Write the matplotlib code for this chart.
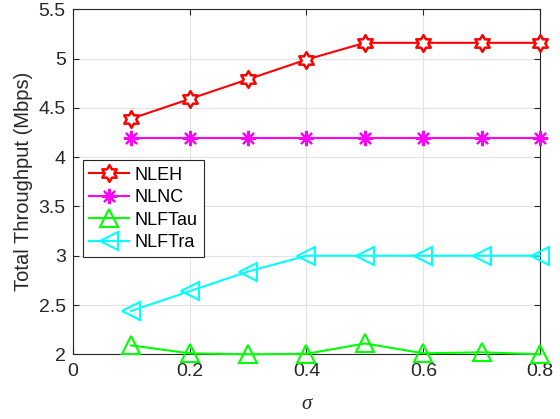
import numpy as np
import matplotlib
matplotlib.use("Agg")
import matplotlib.pyplot as plt
from matplotlib.path import Path

sigma = [0.1, 0.2, 0.3, 0.4, 0.5, 0.6, 0.7, 0.8]
nleh = [4.39, 4.59, 4.79, 4.99, 5.16, 5.16, 5.16, 5.16]
nlnc = [4.19, 4.19, 4.19, 4.19, 4.19, 4.19, 4.19, 4.19]
nlftau = [2.09, 2.01, 2.00, 2.005, 2.11, 2.01, 2.02, 2.00]
nlftra = [2.44, 2.64, 2.84, 3.00, 3.00, 3.00, 3.00, 3.00]
labels = ["NLEH", "NLNC", "NLFTau", "NLFTra"]
xticks = [0, 0.2, 0.4, 0.6, 0.8]
xticklabels = ['0', '0.2', '0.4', '0.6', '0.8']
yticks = [2, 2.5, 3, 3.5, 4, 4.5, 5, 5.5]
yticklabels = ['2', '2.5', '3', '3.5', '4', '4.5', '5', '5.5']

plt.rcParams['font.family'] = ['Liberation Sans', 'DejaVu Sans']

# hexagram marker path
ang_out = np.deg2rad(90 + np.arange(6) * 60)
ang_in = np.deg2rad(120 + np.arange(6) * 60)
r_in = 1 / np.sqrt(3)
verts = []
for ao, ai in zip(ang_out, ang_in):
    verts.append((np.cos(ao), np.sin(ao)))
    verts.append((r_in * np.cos(ai), r_in * np.sin(ai)))
verts.append(verts[0])
codes = [Path.MOVETO] + [Path.LINETO] * (len(verts) - 2) + [Path.CLOSEPOLY]
hexagram = Path(verts, codes)

fig = plt.figure(figsize=(5.6, 4.19), dpi=100)
ax = fig.add_axes([0.1298, 0.1544, 0.835, 0.8234])

lw = 1.5
ax.plot(sigma, nleh, color='#ff0000', lw=lw, marker=hexagram, ms=12,
        mfc='white', mec='#ff0000', mew=1.8, label=labels[0], zorder=3, clip_on=False)
ax.plot(sigma, nlnc, color='#ff00ff', lw=lw, marker=(8, 2, 0), ms=11,
        mec='#ff00ff', mew=1.5, label=labels[1], zorder=3, clip_on=False)
ax.plot(sigma, nlftau, color='#00ff00', lw=lw, marker='^', ms=13,
        mfc='none', mec='#00ff00', mew=1.5, label=labels[2], zorder=3, clip_on=False)
ax.plot(sigma, nlftra, color='#00ffff', lw=lw, marker='<', ms=13,
        mfc='none', mec='#00ffff', mew=1.5, label=labels[3], zorder=3, clip_on=False)

ax.set_xlim(0, 0.8)
ax.set_ylim(2, 5.5)
ax.set_xticks(xticks)
ax.set_xticklabels(xticklabels)
ax.set_yticks(yticks)
ax.set_yticklabels(yticklabels)
ax.grid(True, color='#e3e3e3', lw=0.8, zorder=0)
ax.set_axisbelow(True)
ax.tick_params(direction='in', top=True, right=True, length=4, width=0.8,
               labelsize=14, colors='#262626')
ax.tick_params(axis='x', pad=6)
ax.tick_params(axis='y', pad=5)
for s in ax.spines.values():
    s.set_color('#262626')
    s.set_linewidth(0.8)

ax.set_ylabel('Total Throughput (Mbps)', fontsize=14.5, color='#262626', labelpad=4)
ax.set_xlabel('σ', fontsize=15, family=['Liberation Serif'], style='italic',
              color='#262626', labelpad=11)

leg = ax.legend(loc='upper left', bbox_to_anchor=(0.022, 0.562), fancybox=False,
                edgecolor='#262626', framealpha=1, fontsize=13, handlelength=2.2,
                borderpad=0.35, labelspacing=0.3, handletextpad=0.3, borderaxespad=0)
leg.get_frame().set_linewidth(0.8)

fig.savefig('out.png', dpi=100)
